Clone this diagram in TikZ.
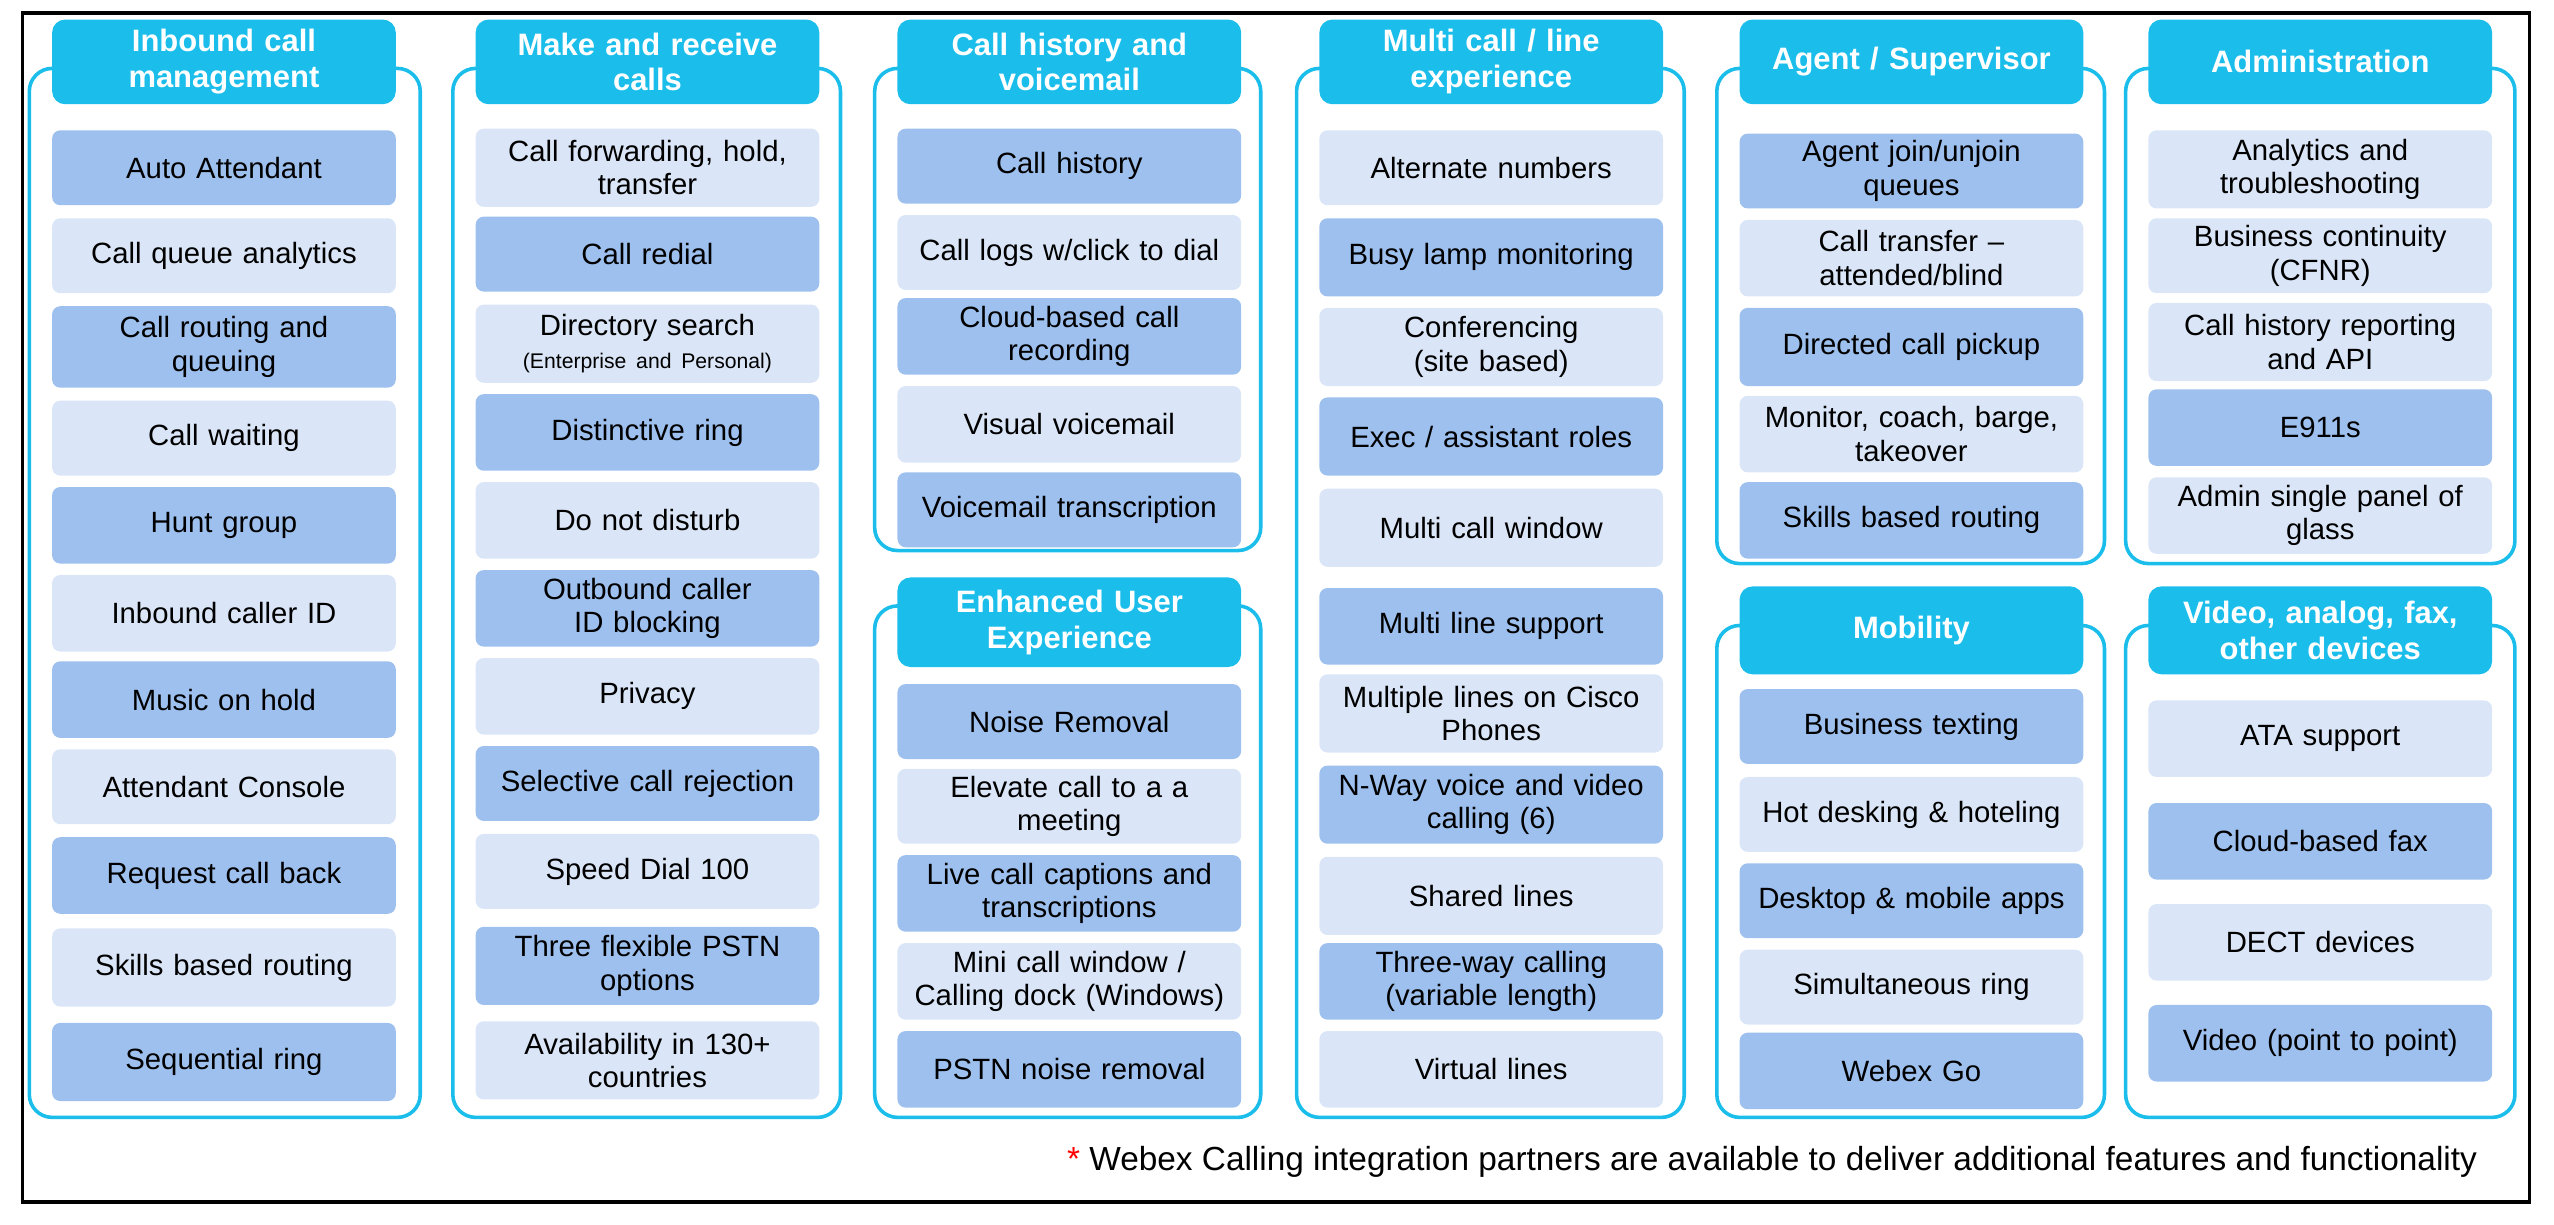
\documentclass[tikz,border=0pt]{standalone}
\usepackage{fontspec}
\setmainfont{Liberation Sans}
\definecolor{cyancol}{RGB}{27,189,235}
\definecolor{darkcol}{RGB}{157,192,238}
\definecolor{lightcol}{RGB}{218,230,247}
\tikzset{panel/.style={draw=cyancol,line width=2.2pt,rounded corners=14pt}}
\tikzset{head/.style={fill=cyancol,rounded corners=8pt,text=white,font=\bfseries\fontsize{19}{22}\selectfont,align=center,minimum width=211pt,text width=208pt,inner sep=0pt}}
\tikzset{item/.style={rounded corners=5pt,minimum width=211pt,text width=209pt,align=center,inner sep=0pt,font=\fontsize{18}{20.5}\selectfont}}
\tikzset{dk/.style={item,fill=darkcol}}
\tikzset{lt/.style={item,fill=lightcol}}
\begin{document}
\begin{tikzpicture}[x=1pt,y=1pt]
\useasboundingbox (0,0) rectangle (1568,-752);
\draw [line width=2pt] (14,-8) rectangle (1553,-738);

% panels
\draw [panel] (18,-42) rectangle (258,-686);
\draw [panel] (278,-42) rectangle (516,-686);
\draw [panel] (537,-42) rectangle (774,-338);
\draw [panel] (537,-372) rectangle (774,-686);
\draw [panel] (796,-42) rectangle (1034,-686);
\draw [panel] (1054,-42) rectangle (1292,-346);
\draw [panel] (1054,-384) rectangle (1292,-686);
\draw [panel] (1305,-42) rectangle (1544,-346);
\draw [panel] (1305,-384) rectangle (1544,-686);

% headers
\node [head,minimum height=52pt] (h1) at (137.5,-38) {Inbound call\\management};
\node [head,minimum height=52pt] (h2) at (397.5,-38) {Make and receive\\calls};
\node [head,minimum height=52pt] (h3) at (656.5,-38) {Call history and\\voicemail};
\node [head,minimum height=55pt] (h4) at (656.5,-382) {Enhanced User\\Experience};
\node [head,minimum height=52pt] (h5) at (915.5,-38) {Multi call / line\\experience};
\node [head,minimum height=52pt] (h6) at (1173.5,-38) {Agent / Supervisor};
\node [head,minimum height=54pt] (h7) at (1173.5,-387) {Mobility};
\node [head,minimum height=52pt] (h8) at (1424.5,-38) {Administration};
\node [head,minimum height=54pt] (h9) at (1424.5,-387) {Video, analog, fax,\\other devices};

% inbound call management
\node [dk,minimum height=46pt] (a1) at (137.5,-103) {Auto Attendant};
\node [lt,minimum height=46pt] (a2) at (137.5,-157) {Call queue analytics};
\node [dk,minimum height=50pt] (a3) at (137.5,-213) {Call routing and\\queuing};
\node [lt,minimum height=46pt] (a4) at (137.5,-269) {Call waiting};
\node [dk,minimum height=47pt] (a5) at (137.5,-322.5) {Hunt group};
\node [lt,minimum height=47pt] (a6) at (137.5,-376.5) {Inbound caller ID};
\node [dk,minimum height=47pt] (a7) at (137.5,-429.5) {Music on hold};
\node [lt,minimum height=46pt] (a8) at (137.5,-483) {Attendant Console};
\node [dk,minimum height=47pt] (a9) at (137.5,-537.5) {Request call back};
\node [lt,minimum height=48pt] (a10) at (137.5,-594) {Skills based routing};
\node [dk,minimum height=48pt] (a11) at (137.5,-652) {Sequential ring};

% make and receive calls
\node [lt,minimum height=48pt] (b1) at (397.5,-103) {Call forwarding, hold,\\transfer};
\node [dk,minimum height=46pt] (b2) at (397.5,-156) {Call redial};
\node [lt,minimum height=48pt] (b3) at (397.5,-211) {Directory search\\{\fontsize{13}{15}\selectfont (Enterprise and Personal)}};
\node [dk,minimum height=47pt] (b4) at (397.5,-265.5) {Distinctive ring};
\node [lt,minimum height=47pt] (b5) at (397.5,-319.5) {Do not disturb};
\node [dk,minimum height=47pt] (b6) at (397.5,-373.5) {Outbound caller\\ID blocking};
\node [lt,minimum height=47pt] (b7) at (397.5,-427.5) {Privacy};
\node [dk,minimum height=46pt] (b8) at (397.5,-481) {Selective call rejection};
\node [lt,minimum height=46pt] (b9) at (397.5,-535) {Speed Dial 100};
\node [dk,minimum height=48pt] (b10) at (397.5,-593) {Three flexible PSTN\\options};
\node [lt,minimum height=48pt] (b11) at (397.5,-651) {Availability in 130+\\countries};

% call history and voicemail
\node [dk,minimum height=46pt] (c1) at (656.5,-102) {Call history};
\node [lt,minimum height=46pt] (c2) at (656.5,-155) {Call logs w/click to dial};
\node [dk,minimum height=47pt] (c3) at (656.5,-206.5) {Cloud-based call\\recording};
\node [lt,minimum height=47pt] (c4) at (656.5,-260.5) {Visual voicemail};
\node [dk,minimum height=46pt] (c5) at (656.5,-313) {Voicemail transcription};

% enhanced user experience
\node [dk,minimum height=46pt] (d1) at (656.5,-443) {Noise Removal};
\node [lt,minimum height=46pt] (d2) at (656.5,-495) {Elevate call to a a\\meeting};
\node [dk,minimum height=47pt] (d3) at (656.5,-548.5) {Live call captions and\\transcriptions};
\node [lt,minimum height=47pt] (d4) at (656.5,-602.5) {Mini call window /\\Calling dock (Windows)};
\node [dk,minimum height=47pt] (d5) at (656.5,-656.5) {PSTN noise removal};

% multi call / line experience
\node [lt,minimum height=46pt] (e1) at (915.5,-103) {Alternate numbers};
\node [dk,minimum height=48pt] (e2) at (915.5,-158) {Busy lamp monitoring};
\node [lt,minimum height=48pt] (e3) at (915.5,-213) {Conferencing\\(site based)};
\node [dk,minimum height=48pt] (e4) at (915.5,-268) {Exec / assistant roles};
\node [lt,minimum height=48pt] (e5) at (915.5,-324) {Multi call window};
\node [dk,minimum height=47pt] (e6) at (915.5,-384.5) {Multi line support};
\node [lt,minimum height=48pt] (e7) at (915.5,-438) {Multiple lines on Cisco\\Phones};
\node [dk,minimum height=48pt] (e8) at (915.5,-494) {N-Way voice and video\\calling (6)};
\node [lt,minimum height=48pt] (e9) at (915.5,-550) {Shared lines};
\node [dk,minimum height=47pt] (e10) at (915.5,-602.5) {Three-way calling\\(variable length)};
\node [lt,minimum height=47pt] (e11) at (915.5,-656.5) {Virtual lines};

% agent / supervisor
\node [dk,minimum height=46pt] (f1) at (1173.5,-105) {Agent join/unjoin\\queues};
\node [lt,minimum height=47pt] (f2) at (1173.5,-158.5) {Call transfer –\\attended/blind};
\node [dk,minimum height=48pt] (f3) at (1173.5,-213) {Directed call pickup};
\node [lt,minimum height=47pt] (f4) at (1173.5,-266.5) {Monitor, coach, barge,\\takeover};
\node [dk,minimum height=47pt] (f5) at (1173.5,-319.5) {Skills based routing};

% mobility
\node [dk,minimum height=46pt] (g1) at (1173.5,-446) {Business texting};
\node [lt,minimum height=46pt] (g2) at (1173.5,-500) {Hot desking \& hoteling};
\node [dk,minimum height=46pt] (g3) at (1173.5,-553) {Desktop \& mobile apps};
\node [lt,minimum height=46pt] (g4) at (1173.5,-606) {Simultaneous ring};
\node [dk,minimum height=47pt] (g5) at (1173.5,-657.5) {Webex Go};

% administration
\node [lt,minimum height=48pt] (k1) at (1424.5,-104) {Analytics and\\troubleshooting};
\node [lt,minimum height=46pt] (k2) at (1424.5,-157) {Business continuity\\(CFNR)};
\node [lt,minimum height=48pt] (k3) at (1424.5,-210) {Call history reporting\\and API};
\node [dk,minimum height=47pt] (k4) at (1424.5,-262.5) {E911s};
\node [lt,minimum height=47pt] (k5) at (1424.5,-316.5) {Admin single panel of\\glass};

% video, analog, fax
\node [lt,minimum height=47pt] (m1) at (1424.5,-453.5) {ATA support};
\node [dk,minimum height=47pt] (m2) at (1424.5,-516.5) {Cloud-based fax};
\node [lt,minimum height=47pt] (m3) at (1424.5,-578.5) {DECT devices};
\node [dk,minimum height=47pt] (m4) at (1424.5,-640.5) {Video (point to point)};

\node [anchor=east,font=\fontsize{20.5}{23}\selectfont,inner sep=0pt] (note) at (1521,-713) {{\color{red}*} Webex Calling integration partners are available to deliver additional features and functionality};
\end{tikzpicture}
\end{document}
